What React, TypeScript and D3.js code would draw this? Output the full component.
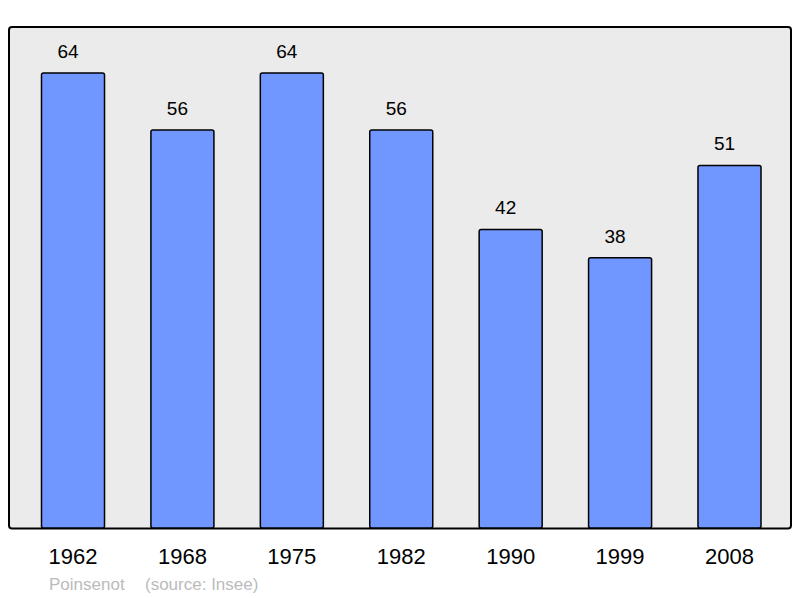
import React from "react";
import * as d3 from "d3";

const years = ["1962", "1968", "1975", "1982", "1990", "1999", "2008"];
const values = [64, 56, 64, 56, 42, 38, 51];
const credit = "Poinsenot";
const source = "(source: Insee)";

export default function App() {
  const W = 800, H = 598;
  const x = d3
    .scaleBand<string>()
    .domain(years)
    .range([18.3, 784.2])
    .paddingInner(0.424)
    .paddingOuter(0.212);
  const y = d3.scaleLinear().domain([0, 64]).range([528, 73]);
  const font = "'Liberation Sans', Arial, sans-serif";
  return (
    <svg
      width={W}
      height={H}
      style={{ position: "absolute", left: 0, top: 0 }}
      fontFamily={font}
    >
      <rect x={0} y={0} width={W} height={H} fill="#ffffff" />
      <rect
        x={9}
        y={27}
        width={782}
        height={501.5}
        rx={3}
        fill="#ebebeb"
        stroke="#000"
        strokeWidth={2}
      />
      {years.map((yr, i) => (
        <g key={yr}>
          <rect
            x={x(yr)!}
            y={y(values[i])}
            width={x.bandwidth()}
            height={y(0) - y(values[i])}
            rx={2}
            fill="#7096ff"
            stroke="#000"
            strokeWidth={1.5}
          />
          <text
            x={x(yr)! + x.bandwidth() / 2 - 5}
            y={y(values[i]) - 15}
            textAnchor="middle"
            fontSize={19}
            fill="#000"
          >
            {values[i]}
          </text>
          <text
            x={x(yr)! + x.bandwidth() / 2}
            y={564}
            textAnchor="middle"
            fontSize={22}
            fill="#000"
          >
            {yr}
          </text>
        </g>
      ))}
      <text x={49} y={590} fontSize={17} fill="#bbbbbb">
        {credit}
      </text>
      <text x={145} y={590} fontSize={17} fill="#bbbbbb">
        {source}
      </text>
    </svg>
  );
}
